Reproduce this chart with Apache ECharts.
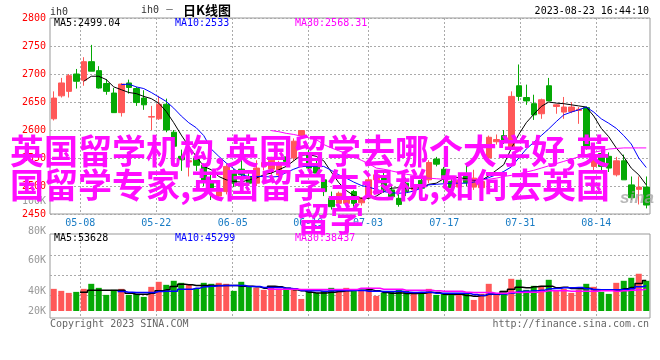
<!DOCTYPE html>
<html>
<head>
<meta charset="utf-8">
<title>ih0 日K线图</title>
<script src="https://cdn.jsdelivr.net/npm/echarts@6/dist/echarts.min.js"></script>
<style>
html, body { margin: 0; padding: 0; background: #fff; }
#main { width: 660px; height: 360px; }
</style>
</head>
<body>
<div id="main"></div>
<script>
// 日K数据
const opens = [2620,2661,2669,2700,2689,2722,2706,2683,2666,2631,
  2684,2674,2657,2623,2620,2646,2596,2553,2543,2550,
  2537,2507,2482,2490,2523,2530,2516,2505,2535,2530,
  2520,2552,2550,2590,2560,2537,2511,2478,2469,2469,
  2490,2470,2481,2511,2517,2493,2478,2505,2493,2510,
  2511,2548,2530,2508,2498,2520,2498,2497,2550,2579,
  2590,2570,2679,2658,2647,2629,2679,2642,2632,2633,
  2635,2640,2535,2558,2553,2520,2545,2502,2494,2498];
const closes = [2657,2684,2697,2687,2722,2705,2675,2669,2631,2682,
  2676,2649,2645,2624,2646,2600,2571,2547,2545,2537,
  2508,2496,2490,2535,2505,2520,2505,2532,2542,2546,
  2539,2544,2580,2599,2532,2523,2490,2463,2487,2478,
  2469,2478,2511,2520,2493,2481,2467,2490,2502,2496,
  2542,2539,2513,2497,2510,2506,2514,2508,2587,2583,
  2581,2660,2660,2652,2627,2654,2652,2645,2641,2641,
  2637,2568,2556,2535,2532,2545,2511,2479,2498,2466];
const highs = [2669,2693,2700,2709,2730,2752,2714,2691,2675,2684,
  2690,2677,2671,2643,2661,2656,2600,2565,2548,2553,
  2540,2520,2497,2540,2530,2547,2525,2546,2555,2552,
  2545,2565,2585,2600,2565,2545,2518,2490,2490,2482,
  2493,2480,2520,2525,2525,2500,2490,2515,2510,2515,
  2546,2552,2534,2512,2513,2539,2529,2515,2590,2592,
  2600,2669,2717,2681,2663,2656,2693,2646,2659,2650,
  2641,2642,2565,2565,2560,2552,2556,2517,2517,2517];
const lows = [2617,2658,2658,2674,2679,2705,2674,2663,2631,2624,
  2665,2643,2636,2600,2618,2596,2565,2527,2517,2527,
  2500,2475,2476,2485,2498,2500,2500,2500,2528,2520,
  2515,2538,2545,2585,2530,2518,2482,2458,2465,2465,
  2463,2465,2478,2505,2488,2476,2463,2482,2488,2490,
  2505,2535,2505,2490,2493,2500,2493,2490,2545,2574,
  2575,2565,2652,2645,2618,2620,2652,2629,2620,2630,
  2611,2565,2525,2528,2525,2517,2511,2475,2467,2460];

const ma5 = [null,null,null,null,2687,2696,2696,2690,2677,2672,
  2667,2665,2660,2656,2648,2633,2613,2591,2571,2553,
  2535,2529,2517,2511,2508,2507,2511,2514,2520,2523,
  2529,2535,2545,2555,2556,2553,2545,2525,2506,2492,
  2483,2478,2478,2482,2490,2496,2497,2496,2496,2497,
  2503,2505,2513,2515,2515,2513,2510,2510,2518,2528,
  2538,2567,2592,2613,2628,2642,2650,2648,2647,2645,
  2643,2641,2625,2603,2588,2568,2552,2532,2520,2502];
const ma10 = [null,null,null,null,null,null,null,null,null,2681,
  2682,2677,2674,2667,2659,2651,2639,2625,2613,2604,
  2590,2566,2553,2541,2531,2520,2517,2517,2517,2516,
  2517,2524,2530,2535,2535,2535,2535,2528,2520,2514,
  2507,2501,2498,2494,2490,2488,2487,2488,2491,2496,
  2502,2503,2504,2505,2505,2505,2507,2510,2515,2520,
  2526,2534,2550,2566,2578,2590,2602,2615,2627,2632,
  2636,2641,2632,2620,2612,2603,2590,2575,2550,2533];
const ma30 = [null,null,null,null,null,null,null,null,null,null,
  null,null,null,null,null,null,null,null,null,null,
  null,null,null,null,null,null,null,null,null,2599,
  2597,2594,2592,2589,2586,2583,2574,2568,2563,2558,
  2552,2546,2540,2532,2530,2527,2524,2521,2519,2516,
  2514,2513,2512,2511,2511,2511,2511,2511,2512,2514,
  2517,2519,2522,2525,2528,2532,2536,2540,2544,2548,
  2552,2556,2560,2563,2566,2567,2568,2568,2568,2568];

// 成交量, K
const volume = [42,40,38,39,42,47,43,36,41,42,
  36,37,34,44,49,46,50,48,46,42,
  48,47,48,47,40,49,44,43,41,44,
  42,43,41,32,41,38,40,43,40,43,
  40,40,43,35,38,39,41,40,38,38,
  42,36,37,37,36,38,31,37,47,37,
  40,52,51,41,45,45,51,40,42,38,
  41,47,44,39,37,48,50,53,57,50];
const volMa5 = [null,null,null,null,38.7,40.7,40.7,40.7,40.7,40.7,
  37.7,36.7,36.7,37.7,40,41,44.3,46.7,46,45.3,
  45.3,45.3,45.3,45.3,45.3,44.7,44.7,44,42.7,44.7,
  44,42.7,41,40,38.7,38,38,38.7,39.3,40,
  40.7,40.7,41,40,38.3,37.7,38,37.3,37.3,37.7,
  38.3,38.3,36.7,36.7,36.7,35.3,34.7,35.3,36.7,36.7,
  39.3,41.7,43.7,43,44,44.7,44.7,43,43.7,42.3,
  42,42.7,41,40.7,40.7,40.7,42,43.3,47.3,50.3];
const volMa10 = [null,null,null,null,null,null,null,null,null,39.3,
  38.7,38.3,38.3,38.3,39.3,39.7,39.7,41.7,41.7,42.7,
  44,44.7,45,45.3,45.3,45.3,44.3,44.3,43.3,43.3,
  43.3,42.7,42,40.3,40,40,39.7,40,40.3,40.3,
  40.3,40.3,39.7,39.7,39.3,39.3,39.7,38.7,38.3,38.7,
  38.7,37.7,37.7,37.7,37.7,37.7,36.3,35.3,37,37,
  37,38,39.3,39.7,40,40.7,42,42.3,43,43,
  43.3,42,41.3,41,41,41,41.3,42,44,45];
const volMa30 = [null,null,null,null,null,null,null,null,null,null,
  null,null,null,null,null,null,null,null,null,null,
  null,null,null,null,null,null,null,null,null,41.7,
  41.7,41.7,41.7,41.3,41.3,41.3,41.3,41.3,41.3,41.3,
  41.3,42.7,42.7,42.7,41.7,41.7,41.7,40.7,40.7,40.7,
  40.7,40,39.7,39.7,39.7,38.7,38.3,38.3,38.3,37.7,
  37.7,38.7,38.3,38.7,38.7,39.3,40,40,40,39.7,
  39.7,39.7,39.7,40,40,39.7,40,40.7,41,41.7];

// 横轴刻度
const dateLabels = ['05-08','05-22','06-05','06-19','07-03','07-17','07-31','08-14'];
const dateTicks = [4.04,14.17,24.36,34.44,42.4,52.57,62.7,72.84];
const volGridTicks = [35.7,55.7,75.3];
// 量轴的刻度文字不等距 (sina 原图如此)
const volLabels = ['20K','40K','60K','80K','100K'];
const volLabelSpots = [0,20,51,80,110];

const categories = opens.map((_, i) => String(i));
const candleData = opens.map((o, i) => [o, closes[i], lows[i], highs[i]]);

const RED = '#ff5858';
const GREEN = '#05a905';
const GRID_LINE = { show: true, lineStyle: { color: '#aaa', width: 1, type: [2, 2] } };
const MONO = '"DejaVu Sans Mono", monospace';
const CJK = '"Noto Sans CJK SC", sans-serif';

const label = (x, y, text, color, extra) => ({
  type: 'text', x, y, silent: true, z: 50,
  style: Object.assign({ text, fill: color, font: '10px ' + MONO, textVerticalAlign: 'middle' }, extra || {})
});
const overlayStyle = {
  fill: '#ff0cff', font: 'bold 34px ' + CJK, textVerticalAlign: 'middle',
  shadowColor: '#666', shadowBlur: 0, shadowOffsetX: 1, shadowOffsetY: 2
};
const overlay = (x, y, text, align) => ({
  type: 'text', x, y, silent: true, z: 100,
  style: Object.assign({ text, textAlign: align || 'left' }, overlayStyle)
});

const xBase = { type: 'category', data: categories, show: false };
const dayAxis = (gridIndex) => ({
  type: 'value', gridIndex, min: 0, max: 80,
  axisLine: { show: false },
  axisTick: { show: false, customValues: dateTicks },
  splitLine: GRID_LINE,
  axisLabel: { show: false }
});

const option = {
  animation: false,
  backgroundColor: '#fff',
  textStyle: { fontFamily: MONO },
  grid: [
    { left: 50, top: 18, width: 600, height: 196, show: true, borderColor: '#999', borderWidth: 1, backgroundColor: 'transparent' }, // K线
    { left: 50, top: 234, width: 600, height: 84, show: true, borderColor: '#999', borderWidth: 1, backgroundColor: 'transparent' }, // 量的边框和网格
    { left: 50, top: 234, width: 600, height: 77 }, // 量柱, 底部是20K
    { left: 50, top: 201, width: 600, height: 110 } // 量轴文字
  ],
  xAxis: [
    Object.assign({ gridIndex: 0 }, xBase),
    Object.assign({ gridIndex: 2 }, xBase),
    { type: 'value', gridIndex: 3, show: false, min: 0, max: 1 },
    Object.assign(dayAxis(0), {
      position: 'bottom',
      axisLabel: {
        show: true, customValues: dateTicks, margin: 4, color: '#1a7cc4', fontSize: 10, fontFamily: MONO,
        formatter: (v) => dateLabels[dateTicks.indexOf(v)]
      }
    }),
    dayAxis(1)
  ],
  yAxis: [
    {
      type: 'value', gridIndex: 0, min: 2450, max: 2800, interval: 50,
      axisLine: { show: false }, axisTick: { show: false },
      splitLine: GRID_LINE,
      axisLabel: { color: '#f00', fontSize: 10, fontFamily: MONO, margin: 4, padding: [0, 0, 3, 0], formatter: (v) => String(v) }
    },
    {
      type: 'value', gridIndex: 1, min: 12.7, max: 96.5,
      axisLine: { show: false },
      axisTick: { show: false, customValues: volGridTicks },
      splitLine: GRID_LINE,
      axisLabel: { show: false }
    },
    {
      type: 'value', gridIndex: 2, min: 20, max: 96.5,
      axisLine: { show: false }, axisTick: { show: false }, splitLine: { show: false },
      axisLabel: { show: false }
    },
    {
      type: 'value', gridIndex: 3, min: 0, max: 110,
      axisLine: { show: false }, axisTick: { show: false }, splitLine: { show: false },
      axisLabel: {
        customValues: volLabelSpots, color: '#999', fontSize: 10, fontFamily: MONO, margin: 4,
        formatter: (v) => volLabels[volLabelSpots.indexOf(v)]
      }
    }
  ],
  series: [
    {
      type: 'candlestick', xAxisIndex: 0, yAxisIndex: 0, data: candleData, barWidth: 6, z: 3,
      itemStyle: { color: RED, color0: GREEN, borderColor: RED, borderColor0: GREEN, borderWidth: 1 }
    },
    { type: 'line', xAxisIndex: 0, yAxisIndex: 0, data: ma5, showSymbol: false, z: 4, lineStyle: { color: '#000', width: 1 } },
    { type: 'line', xAxisIndex: 0, yAxisIndex: 0, data: ma10, showSymbol: false, z: 4, lineStyle: { color: '#00f', width: 1 } },
    { type: 'line', xAxisIndex: 0, yAxisIndex: 0, data: ma30, showSymbol: false, z: 4, lineStyle: { color: '#f0f', width: 1 } },
    {
      type: 'bar', xAxisIndex: 1, yAxisIndex: 2, barWidth: 6, z: 3,
      data: volume.map((v, i) => ({ value: v, itemStyle: { color: closes[i] >= opens[i] ? RED : GREEN } }))
    },
    { type: 'line', xAxisIndex: 1, yAxisIndex: 2, data: volMa5, step: 'middle', showSymbol: false, z: 4, lineStyle: { color: '#000', width: 1.5 } },
    { type: 'line', xAxisIndex: 1, yAxisIndex: 2, data: volMa10, step: 'middle', showSymbol: false, z: 4, lineStyle: { color: '#00f', width: 1.5 } },
    { type: 'line', xAxisIndex: 1, yAxisIndex: 2, data: volMa30, step: 'middle', showSymbol: false, z: 4, lineStyle: { color: '#f0f', width: 1.5 } }
  ],
  graphic: [
    label(50, 12, 'ih0', '#333'),
    label(141, 10, 'ih0', '#333'),
    label(165, 10, '－', '#333', { font: '9px ' + CJK }),
    label(183, 10, '日K线图', '#000', { font: 'bold 13px ' + CJK }),
    label(649, 11, '2023-08-23 16:44:10', '#000', { textAlign: 'right' }),
    label(54, 23.5, 'MA5:2499.04', '#000'),
    label(175, 23.5, 'MA10:2533', '#00f'),
    label(295, 23.5, 'MA30:2568.31', '#f0f'),
    label(54, 238, 'MA5:53628', '#000'),
    label(175, 238, 'MA10:45299', '#00f'),
    label(295, 238, 'MA30:38437', '#f0f'),
    label(50, 324, 'Copyright 2023 SINA.COM', '#666'),
    label(649, 324, 'http://finance.sina.com.cn', '#666', { textAlign: 'right' }),
    label(620, 198, 'sina', 'rgba(160,160,160,0.75)', { font: 'italic bold 17px "Liberation Sans", sans-serif' }),
    overlay(10, 151, '英国留学机构,英国留学去哪个大学好,英'),
    overlay(10, 185, '国留学专家,英国留学生退税,如何去英国'),
    overlay(330, 219, '留学', 'center')
  ]
};

const myChart = echarts.init(document.getElementById('main'));
myChart.setOption(option);
</script>
</body>
</html>
